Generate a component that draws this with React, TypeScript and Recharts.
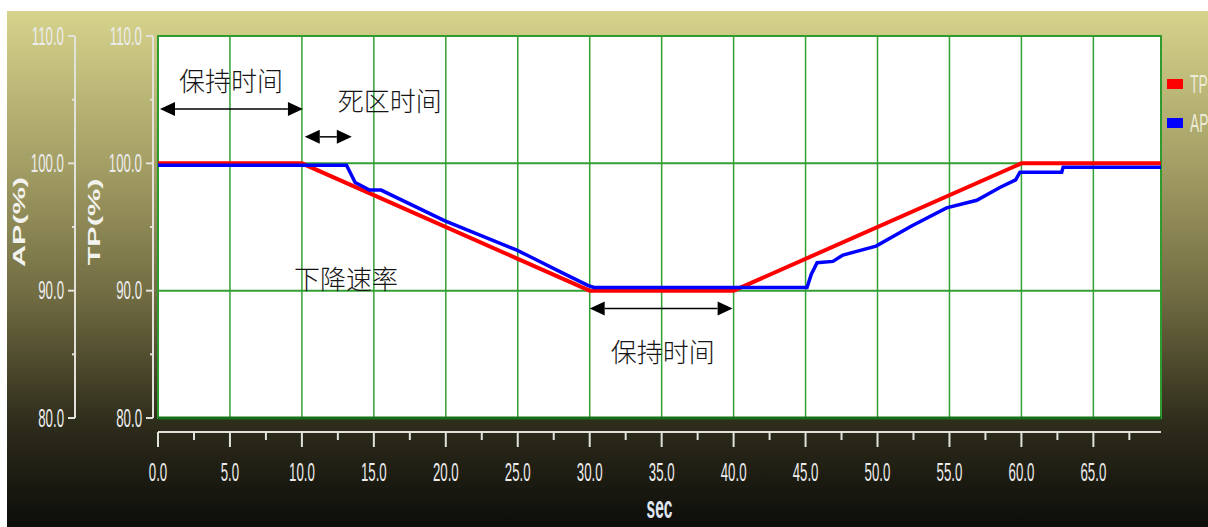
import React from 'react';
import {
  LineChart,
  Line,
  XAxis,
  YAxis,
  Legend,
  ReferenceArea,
  ReferenceLine,
  ReferenceDot,
} from 'recharts';

// target pressure (TP) setpoint trace
const tpTime = [0, 10, 30, 40, 60, 69.7];
const tpValue = [100, 100, 90, 90, 100, 100];

const apTime = [0, 10, 13.1, 13.7, 14.7, 15.5, 19.9, 24.9, 25.8, 28.1, 29.9, 30.3, 45.1, 45.4, 45.8, 46.9, 47.6, 49.9, 52.4, 54.8, 56.9, 58.5, 59.6, 59.9, 62.8, 62.9, 69.7];
const apValue = [99.85, 99.85, 99.85, 98.5, 97.9, 97.9, 95.5, 93.2, 92.7, 91.4, 90.4, 90.25, 90.25, 91.3, 92.2, 92.3, 92.8, 93.5, 95.1, 96.5, 97.1, 98.1, 98.7, 99.3, 99.3, 99.7, 99.7];

const seriesNames = ['TP', 'AP'];
const seriesColors = ['#ff0000', '#0000ff'];

const xTicks = [0, 2.5, 5, 7.5, 10, 12.5, 15, 17.5, 20, 22.5, 25, 27.5, 30, 32.5, 35, 37.5, 40, 42.5, 45, 47.5, 50, 52.5, 55, 57.5, 60, 62.5, 65, 67.5];
const yTicks = [80, 85, 90, 95, 100, 105, 110];
const gridX = [5, 10, 15, 20, 25, 30, 35, 40, 45, 50, 55, 60, 65];
const gridY = [90, 100];

// annotations
const noteText = ['保持时间', '死区时间', '下降速率', '保持时间'];
const noteX = [5.07, 16.1, 13.06, 35.07];
const noteY = [106.6, 105.0, 91.05, 85.3];
const arrowFrom = [0.14, 10.2, 30.0];
const arrowTo = [10.07, 13.47, 39.93];
const arrowY = [104.27, 102.08, 88.6];

const X_MAX = 69.7;
const TP_AXIS = 'y1tp'; // inner axis, next to the plot
const AP_AXIS = 'y2ap'; // outer axis
const axisColor = '#e2e2da';
const tickColor = '#ececec';
const gridColor = '#33a033';
const SQUEEZE = 0.53;

const tpData = tpTime.map((t, i) => ({ t, v: tpValue[i] }));
const apData = apTime.map((t, i) => ({ t, v: apValue[i] }));

const makeYTick = (shift: number) => (props: any) => {
  const { x, y, payload } = props;
  const v = payload.value as number;
  const major = v % 10 === 0;
  const lx = x + shift;
  return (
    <g>
      <line x1={lx - (major ? 7 : 3)} x2={lx} y1={y} y2={y} stroke={axisColor} strokeWidth={2} />
      {major && (
        <text
          transform={`translate(${lx - 11},${y}) scale(${SQUEEZE},1)`}
          textAnchor="end"
          dominantBaseline="central"
          fontSize={25}
          fontFamily="Liberation Sans"
          fill={tickColor}
        >
          {v.toFixed(1)}
        </text>
      )}
    </g>
  );
};

const XTick = (props: any) => {
  const { x, y, payload } = props;
  const v = payload.value as number;
  const major = v % 5 === 0;
  return (
    <g>
      <line x1={x} x2={x} y1={y + 14} y2={y + 14 + (major ? 15 : 8)} stroke={axisColor} strokeWidth={2} />
      {major && (
        <text
          transform={`translate(${x},${y + 54}) scale(${SQUEEZE},1)`}
          textAnchor="middle"
          dominantBaseline="central"
          fontSize={25}
          fontFamily="Liberation Sans"
          fill={tickColor}
        >
          {v.toFixed(1)}
        </text>
      )}
    </g>
  );
};

const sideLabel = (text: string) => (props: any) => {
  const { x, y, height } = props.viewBox;
  const cx = x + 19;
  const cy = y + height / 2 - 5;
  return (
    <text
      transform={`translate(${cx},${cy}) rotate(-90) scale(1.8,1)`}
      textAnchor="middle"
      dominantBaseline="central"
      fontSize={17}
      fontWeight="bold"
      fontFamily="Liberation Sans"
      fill="#f2f2ee"
    >
      {text}
    </text>
  );
};

const secLabel = (props: any) => {
  const { x, y, width } = props.viewBox;
  return (
    <text
      transform={`translate(${x + width / 2},${y + 100}) scale(0.5,1)`}
      textAnchor="middle"
      fontSize={31}
      fontWeight="bold"
      fontFamily="Liberation Sans"
      fill="#dfe6f2"
    >
      sec
    </text>
  );
};

const arrowShape = (props: any) => {
  const { x1, y1, x2 } = props;
  const left = Math.min(x1, x2);
  const right = Math.max(x1, x2);
  const h = 15;
  const w = 7;
  return (
    <g>
      <line x1={left + h} x2={right - h} y1={y1} y2={y1} stroke="#000" strokeWidth={1.5} />
      <polygon points={`${left},${y1} ${left + h},${y1 - w} ${left + h},${y1 + w}`} fill="#000" />
      <polygon points={`${right},${y1} ${right - h},${y1 - w} ${right - h},${y1 + w}`} fill="#000" />
    </g>
  );
};

const noteShape = (text: string) => (props: any) => (
  <text
    x={props.cx}
    y={props.cy}
    textAnchor="middle"
    dominantBaseline="central"
    fontSize={26}
    fontWeight={300}
    fontFamily="Noto Sans CJK SC"
    fill="#151515"
  >
    {text}
  </text>
);

const renderLegend = () => (
  <div style={{ width: 41, overflow: 'visible' }}>
    {seriesNames.map((name, i) => (
      <div key={name} style={{ display: 'flex', alignItems: 'center', height: 39, whiteSpace: 'nowrap' }}>
        <span style={{ display: 'inline-block', flexShrink: 0, width: 16, height: 10, background: seriesColors[i] }} />
        <span
          style={{
            display: 'inline-block',
            flexShrink: 0,
            marginLeft: 7,
            transform: `scaleX(${SQUEEZE})`,
            transformOrigin: 'left center',
            fontFamily: 'Liberation Sans',
            fontSize: 26,
            lineHeight: '26px',
            color: '#ecebd8',
          }}
        >
          {name}
        </span>
      </div>
    ))}
  </div>
);

export default function App() {
  return (
    <div style={{ position: 'absolute', left: 0, top: 0, width: 1208, height: 527, background: '#fff', overflow: 'hidden' }}>
      <div
        style={{
          position: 'absolute',
          left: 7,
          top: 11,
          width: 1201,
          height: 516,
          background: 'linear-gradient(to bottom, #d6d38c 0%, #a39e64 30%, #716c42 55%, #2e2c1b 80%, #0d0d0a 100%)',
        }}
      />
      <div style={{ position: 'absolute', left: 0, top: 0 }}>
        <LineChart width={1208} height={527} margin={{ top: 36, right: 6, bottom: 0, left: 0 }}>
          <XAxis
            dataKey="t"
            type="number"
            domain={[0, X_MAX]}
            ticks={xTicks}
            interval={0}
            height={109}
            tickSize={0}
            tickMargin={0}
            tickLine={false}
            tick={XTick}
            axisLine={{ stroke: axisColor, strokeWidth: 2, transform: 'translate(0,14)' }}
            allowDataOverflow
            label={secLabel}
          />
          <YAxis
            yAxisId={TP_AXIS}
            domain={[80, 110]}
            ticks={yTicks}
            interval={0}
            width={83}
            tickSize={0}
            tickMargin={0}
            tickLine={false}
            tick={makeYTick(-5)}
            axisLine={{ stroke: axisColor, strokeWidth: 2, transform: 'translate(-5,0)' }}
            label={sideLabel('TP(%)')}
          />
          <YAxis
            yAxisId={AP_AXIS}
            domain={[80, 110]}
            ticks={yTicks}
            interval={0}
            width={75}
            tickSize={0}
            tickMargin={0}
            tickLine={false}
            tick={makeYTick(0)}
            axisLine={{ stroke: axisColor, strokeWidth: 2 }}
            label={sideLabel('AP(%)')}
          />
          <ReferenceArea yAxisId={TP_AXIS} x1={0} x2={X_MAX} y1={80} y2={110} fill="#fff" fillOpacity={1} stroke="#2f9a2f" strokeWidth={2} />
          {gridX.map((g) => (
            <ReferenceLine key={`gx${g}`} yAxisId={TP_AXIS} x={g} stroke={gridColor} strokeWidth={1.5} />
          ))}
          {gridY.map((g) => (
            <ReferenceLine key={`gy${g}`} yAxisId={TP_AXIS} y={g} stroke={gridColor} strokeWidth={2} />
          ))}
          <ReferenceLine yAxisId={TP_AXIS} y={80} stroke="#16701a" strokeWidth={3} />
          <Legend
            layout="vertical"
            align="right"
            verticalAlign="top"
            content={renderLegend}
            wrapperStyle={{ left: 1167, top: 64, width: 41 }}
          />
          <Line
            yAxisId={TP_AXIS}
            name="TP"
            data={tpData}
            dataKey="v"
            type="linear"
            stroke={seriesColors[0]}
            strokeWidth={4}
            dot={false}
            isAnimationActive={false}
          />
          <Line
            yAxisId={AP_AXIS}
            name="AP"
            data={apData}
            dataKey="v"
            type="linear"
            stroke={seriesColors[1]}
            strokeWidth={3.5}
            dot={false}
            isAnimationActive={false}
          />
          {arrowFrom.map((a, i) => (
            <ReferenceLine
              key={`ar${i}`}
              yAxisId={TP_AXIS}
              segment={[{ x: a, y: arrowY[i] }, { x: arrowTo[i], y: arrowY[i] }]}
              shape={arrowShape}
            />
          ))}
          {noteText.map((n, i) => (
            <ReferenceDot key={`nt${i}`} yAxisId={TP_AXIS} x={noteX[i]} y={noteY[i]} r={0} shape={noteShape(n)} />
          ))}
        </LineChart>
      </div>
    </div>
  );
}
